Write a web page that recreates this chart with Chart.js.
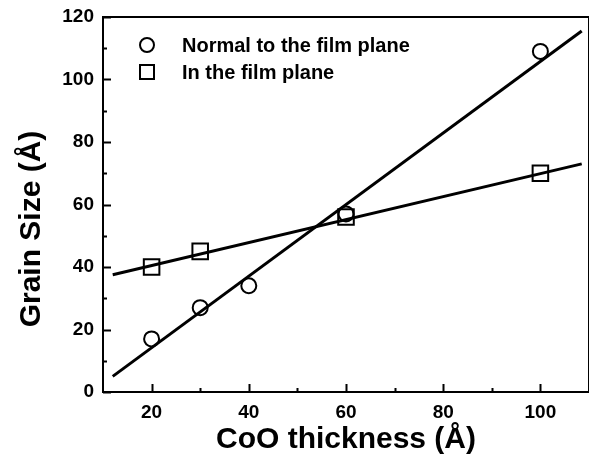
<!DOCTYPE html>
<html>
<head>
<meta charset="utf-8">
<script src="https://cdn.jsdelivr.net/npm/chart.js@4.4.1/dist/chart.umd.min.js"></script>
<style>
  html, body { margin: 0; padding: 0; background: #fff; }
  #wrap { width: 589px; height: 468px; }
</style>
</head>
<body>
<div id="wrap"><canvas id="c" width="589" height="468"></canvas></div>
<script>
// ---- data ----
const thicknessNormal = [20, 30, 40, 60, 100];
const grainNormal     = [17, 27, 34, 57, 109];
const thicknessInPlane = [20, 30, 60, 100];
const grainInPlane     = [40, 45, 56, 70];
const fitThickness   = [12, 108.5];
const fitNormal      = [5, 115.5];
const fitInPlane     = [37.5, 73];
const xTickValues = [20, 40, 60, 80, 100];
const xMinorValues = [30, 50, 70, 90];
const yTickValues = [0, 20, 40, 60, 80, 100, 120];
const yMinorValues = [10, 30, 50, 70, 90, 110];
const legendLabels = ['Normal to the film plane', 'In the film plane'];
const xTitle = 'CoO thickness (Å)';
const yTitle = 'Grain Size (Å)';

const FONT = '"Liberation Sans", Arial, Helvetica, sans-serif';
const pts = (xs, ys) => xs.map((x, i) => ({ x: x, y: ys[i] }));

const framePlugin = {
  id: 'frame',
  afterDraw(chart) {
    const ctx = chart.ctx;
    const a = chart.chartArea;
    const xs = chart.scales.x, ys = chart.scales.y;
    ctx.save();
    ctx.strokeStyle = '#000';
    ctx.lineWidth = 2;
    ctx.strokeRect(a.left, a.top, a.right - a.left, a.bottom - a.top);
    ctx.beginPath();
    const tick = (vals, len, axis) => {
      vals.forEach(v => {
        if (axis === 'x') {
          const p = Math.round(xs.getPixelForValue(v)) + 0.5;
          ctx.moveTo(p, a.bottom); ctx.lineTo(p, a.bottom - len);
        } else {
          const p = Math.round(ys.getPixelForValue(v)) + 0.5;
          ctx.moveTo(a.left, p); ctx.lineTo(a.left + len, p);
        }
      });
    };
    tick(xTickValues, 8, 'x');
    tick(xMinorValues, 4, 'x');
    tick(yTickValues, 8, 'y');
    tick(yMinorValues, 4, 'y');
    ctx.stroke();

    // legend
    const lx = 147, ly = [45, 72];
    ctx.lineWidth = 2;
    ctx.beginPath();
    ctx.arc(lx, ly[0], 7, 0, Math.PI * 2);
    ctx.stroke();
    ctx.strokeRect(lx - 7, ly[1] - 7, 14, 14);
    ctx.fillStyle = '#000';
    ctx.font = 'bold 20px ' + FONT;
    ctx.textAlign = 'left';
    ctx.textBaseline = 'middle';
    ctx.fillText(legendLabels[0], 182, ly[0] + 1);
    ctx.fillText(legendLabels[1], 182, ly[1] + 1);

    // y axis title
    ctx.translate(32, 229);
    ctx.rotate(-Math.PI / 2);
    ctx.textAlign = 'center';
    ctx.textBaseline = 'middle';
    ctx.font = 'bold 30px ' + FONT;
    ctx.fillText(yTitle, 0, 0);
    ctx.restore();
  }
};

new Chart(document.getElementById('c'), {
  type: 'scatter',
  data: {
    datasets: [
      { label: 'fitN', data: pts(fitThickness, fitNormal), showLine: true, borderColor: '#000', borderWidth: 3, pointRadius: 0, fill: false },
      { label: 'fitP', data: pts(fitThickness, fitInPlane), showLine: true, borderColor: '#000', borderWidth: 3, pointRadius: 0, fill: false },
      { label: legendLabels[0], data: pts(thicknessNormal, grainNormal), pointStyle: 'circle', pointRadius: 7.5, borderColor: '#000', backgroundColor: 'rgba(0,0,0,0)', borderWidth: 2, showLine: false },
      { label: legendLabels[1], data: pts(thicknessInPlane, grainInPlane), pointStyle: 'rect', pointRadius: 11, borderColor: '#000', backgroundColor: 'rgba(0,0,0,0)', borderWidth: 2, showLine: false }
    ]
  },
  options: {
    responsive: false,
    animation: false,
    devicePixelRatio: 1,
    layout: { autoPadding: false, padding: { top: 17, right: 0, left: 0, bottom: 0 } },
    plugins: { legend: { display: false }, tooltip: { enabled: false } },
    scales: {
      x: {
        type: 'linear', min: 10, max: 110,
        afterBuildTicks: s => { s.ticks = xTickValues.map(v => ({ value: v })); },
        afterFit: s => { s.height = 76; s.paddingLeft = 0; s.paddingRight = 0; },
        grid: { display: false, drawTicks: false },
        border: { display: true, color: '#000', width: 2 },
        ticks: { color: '#000', font: { family: FONT, size: 19, weight: 'bold' }, padding: 9, maxRotation: 0 },
        title: { display: true, text: xTitle, color: '#000', font: { family: FONT, size: 30, weight: 'bold' }, padding: { top: 0, bottom: 10 } }
      },
      y: {
        type: 'linear', min: 0, max: 120,
        afterBuildTicks: s => { s.ticks = yTickValues.map(v => ({ value: v })); },
        afterFit: s => { s.width = 103; s.paddingTop = 0; s.paddingBottom = 0; },
        grid: { display: false, drawTicks: false },
        border: { display: true, color: '#000', width: 2 },
        ticks: { color: '#000', font: { family: FONT, size: 19, weight: 'bold' }, padding: 9 },
        title: { display: false }
      }
    }
  },
  plugins: [framePlugin]
});
</script>
</body>
</html>
